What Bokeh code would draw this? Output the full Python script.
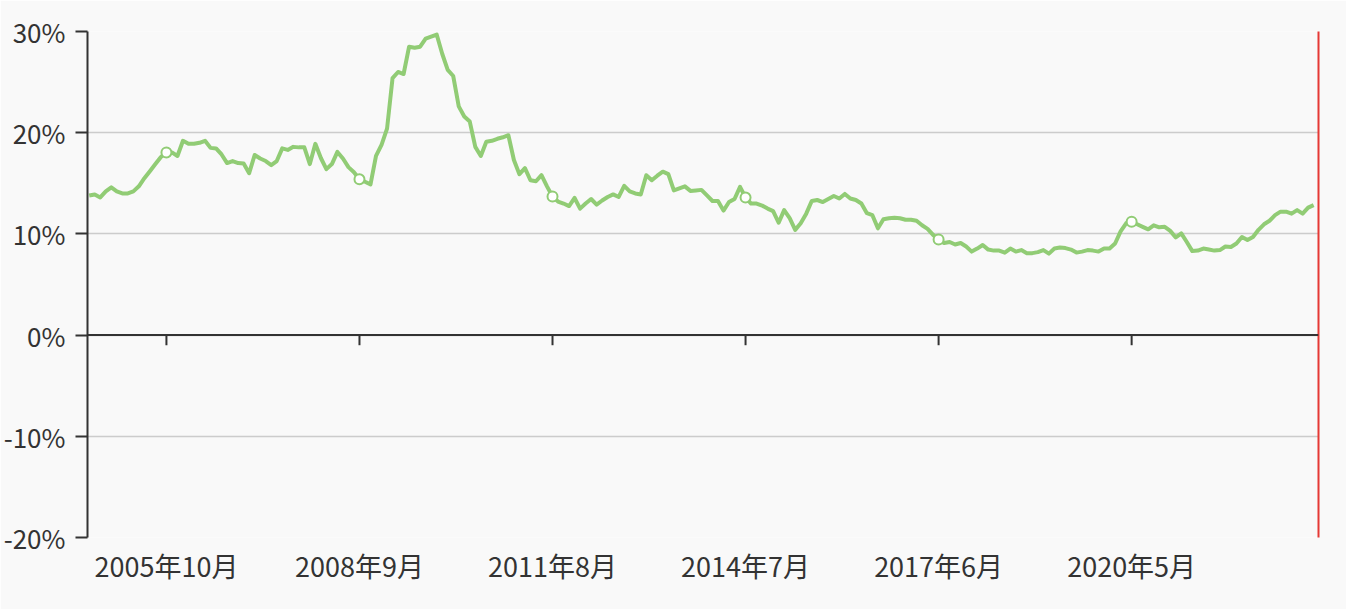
from bokeh.plotting import figure
from bokeh.models import Range1d, FixedTicker, LinearAxis, Span
from bokeh.embed import file_html
from bokeh.resources import INLINE

# ---- data ----
start_year, start_month = 2004, 8
values = [
    13.8, 13.9, 13.6, 14.2, 14.6, 14.2, 14.0, 14.0, 14.2, 14.7,
    15.5, 16.2, 16.9, 17.6, 18.05, 18.05, 17.7, 19.2, 18.9, 18.9,
    19.0, 19.2, 18.5, 18.45, 17.85, 17.0, 17.2, 17.0, 16.95, 16.0,
    17.8, 17.45, 17.2, 16.8, 17.2, 18.45, 18.3, 18.6, 18.55, 18.55,
    16.9, 18.9, 17.5, 16.4, 16.9, 18.1, 17.45, 16.6, 16.1, 15.4,
    15.15, 14.9, 17.7, 18.8, 20.4, 25.4, 26.0, 25.8, 28.5, 28.4,
    28.5, 29.3, 29.5, 29.7, 27.8, 26.2, 25.6, 22.6, 21.6, 21.1,
    18.6, 17.7, 19.1, 19.2, 19.4, 19.55, 19.75, 17.3, 15.9, 16.5,
    15.3, 15.2, 15.8, 14.7, 13.7, 13.2, 13.0, 12.75, 13.55, 12.5,
    13.0, 13.45, 12.9, 13.3, 13.65, 13.9, 13.65, 14.75, 14.2, 14.0,
    13.9, 15.8, 15.3, 15.75, 16.15, 15.9, 14.3, 14.5, 14.7, 14.25,
    14.3, 14.35, 13.8, 13.25, 13.25, 12.3, 13.15, 13.45, 14.65, 13.6,
    13.0, 13.0, 12.8, 12.5, 12.25, 11.1, 12.35, 11.55, 10.4, 11.05,
    12.0, 13.25, 13.35, 13.15, 13.45, 13.75, 13.5, 13.95, 13.5, 13.35,
    13.0, 12.05, 11.85, 10.55, 11.45, 11.55, 11.6, 11.55, 11.4, 11.4,
    11.3, 10.85, 10.5, 9.9, 9.45, 9.1, 9.2, 8.95, 9.1, 8.75,
    8.25, 8.55, 8.9, 8.45, 8.35, 8.35, 8.15, 8.55, 8.25, 8.4,
    8.1, 8.1, 8.2, 8.4, 8.05, 8.55, 8.65, 8.6, 8.45, 8.15,
    8.25, 8.4, 8.35, 8.25, 8.55, 8.55, 9.05, 10.25, 11.05, 11.2,
    10.95, 10.7, 10.45, 10.85, 10.65, 10.7, 10.3, 9.65, 10.05, 9.2,
    8.3, 8.35, 8.55, 8.45, 8.35, 8.4, 8.75, 8.7, 9.05, 9.7,
    9.4, 9.7, 10.4, 10.95, 11.3, 11.85, 12.2, 12.2, 12.0, 12.35,
    12.0, 12.6, 12.85,
]
months = []
for k in range(len(values)):
    mm = start_month - 1 + k
    months.append(f"{start_year + mm // 12}年{mm % 12 + 1}月")
tick_labels = ["2005年10月", "2008年9月", "2011年8月", "2014年7月", "2017年6月", "2020年5月"]
y_ticks = [-20, -10, 0, 10, 20, 30]

tick_idx = [months.index(t) for t in tick_labels]
xs = list(range(len(values)))

GREEN = "#91cc75"
BG = "#f9f9f9"
FONT = "Noto Sans CJK SC"

p = figure(width=1346, height=609, output_backend="svg", toolbar_location=None,
           x_range=Range1d(-0.31, 222.88), y_range=Range1d(-20, 30),
           min_border_left=86, min_border_right=28, min_border_top=31, min_border_bottom=72)
p.background_fill_color = BG
p.border_fill_color = BG
p.outline_line_color = None

# y axis
ya = p.yaxis[0]
ya.ticker = FixedTicker(ticks=y_ticks)
ya.major_label_overrides = {t: f"{t}%" for t in y_ticks}
ya.axis_line_color = "#333333"
ya.axis_line_width = 2
ya.major_tick_line_color = "#333333"
ya.major_tick_line_width = 2
ya.major_tick_out = 12
ya.major_tick_in = 0
ya.minor_tick_line_color = None
ya.major_label_text_font = FONT
ya.major_label_text_font_size = "26px"
ya.major_label_text_color = "#333333"
ya.major_label_standoff = 10

# x axis (labels only at bottom)
xa = p.xaxis[0]
xa.ticker = FixedTicker(ticks=tick_idx)
xa.major_label_overrides = {i: t for i, t in zip(tick_idx, tick_labels)}
xa.axis_line_color = None
xa.major_tick_line_color = None
xa.minor_tick_line_color = None
xa.major_label_text_font = FONT
xa.major_label_text_font_size = "27px"
xa.major_label_text_color = "#333333"
xa.major_label_standoff = 2

# right red line
ra = LinearAxis(axis_line_color="#e53935", axis_line_width=2,
                major_tick_line_color=None, minor_tick_line_color=None,
                major_label_text_font_size="0px", ticker=FixedTicker(ticks=[]))
p.add_layout(ra, "right")

p.xgrid.grid_line_color = None
p.ygrid.ticker = FixedTicker(ticks=y_ticks)
p.ygrid.grid_line_color = "#cccccc"
p.ygrid.grid_line_width = 1.5

# zero axis line with ticks
p.add_layout(Span(location=0, dimension="width", line_color="#333333", line_width=2))
p.segment(x0=tick_idx, y0=[0] * len(tick_idx), x1=tick_idx, y1=[-1.0] * len(tick_idx),
          line_color="#333333", line_width=2)

p.line(xs, values, line_color=GREEN, line_width=4, line_join="round")
p.scatter([xs[i] for i in tick_idx], [values[i] for i in tick_idx], size=10,
          fill_color="white", line_color=GREEN, line_width=2)

open("out.html", "w").write(file_html(p, INLINE))
